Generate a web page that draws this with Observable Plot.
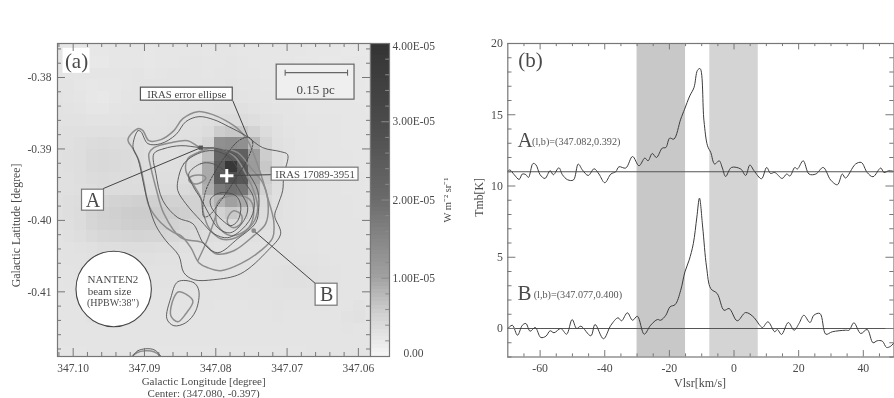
<!DOCTYPE html>
<html><head><meta charset="utf-8">
<script src="https://cdn.jsdelivr.net/npm/d3@7"></script>
<script src="https://cdn.jsdelivr.net/npm/@observablehq/plot@0.6"></script>
<style>
html,body{margin:0;padding:0;background:#fff;width:894px;height:398px;overflow:hidden}
#page{position:relative;width:894px;height:398px}
#page>svg{position:absolute;top:0;overflow:visible;background:transparent;filter:blur(.3px)}
</style></head><body><div id="page"></div>
<script>
// ---- Panel (a): intensity map, units of 1e-6 W m-2 sr-1 (rows top to bottom)
const mapValues = [
[2.2,2.0,2.0,1.9,1.9,2.0,2.0,2.0,1.9,2.0,2.0,2.1,2.2,2.1,2.2,2.2,2.1,2.1,2.1,2.0,2.0,2.0,1.9,1.9,1.9,1.8,1.8,1.8],
[2.2,2.1,2.0,1.8,1.8,2.0,2.1,2.0,1.9,2.1,2.1,2.2,2.3,2.2,2.2,2.3,2.2,2.1,2.0,2.0,2.1,1.9,1.9,1.8,1.8,1.9,1.9,1.8],
[2.3,2.2,2.2,2.2,2.2,2.2,2.2,2.3,2.1,2.2,2.3,2.3,2.3,2.2,2.3,2.4,2.2,2.2,2.1,2.1,2.0,2.0,1.9,1.9,1.9,2.0,1.9,1.8],
[2.4,2.4,2.1,1.9,2.0,2.1,2.2,2.3,2.3,2.3,2.4,2.4,2.4,2.3,2.4,2.5,2.4,2.3,2.2,2.1,2.1,2.0,1.9,1.9,2.0,2.0,1.9,1.8],
[2.5,2.4,2.2,1.9,1.8,2.1,2.3,2.4,2.4,2.4,2.5,2.5,2.5,2.5,2.5,2.6,2.5,2.4,2.3,2.2,2.2,2.1,2.0,2.0,2.1,2.0,1.9,1.9],
[2.6,2.5,2.3,2.1,2.1,2.3,2.4,2.5,2.5,2.6,2.7,2.8,2.8,2.8,2.9,3.0,3.0,2.7,2.5,2.4,2.3,2.2,2.1,2.1,2.1,2.1,2.0,1.9],
[2.7,2.7,2.6,2.5,2.5,2.5,2.6,2.7,2.7,2.7,2.8,2.9,3.0,3.1,3.4,3.6,3.6,3.2,2.8,2.6,2.4,2.3,2.2,2.2,2.2,2.1,2.0,2.0],
[2.8,2.9,3.0,3.0,3.0,2.9,2.9,2.8,2.8,2.8,2.9,3.0,3.1,3.5,5.5,6.0,6.0,4.8,3.5,2.8,2.5,2.4,2.3,2.2,2.2,2.1,2.1,2.0],
[3.0,3.0,3.2,3.6,3.7,3.6,3.5,3.2,3.0,3.0,3.0,3.1,3.4,4.5,13,13.5,13,7.5,4.6,3.0,2.6,2.4,2.3,2.2,2.2,2.1,2.1,2.0],
[3.0,3.1,3.3,3.8,3.9,3.8,3.7,3.4,3.1,3.0,3.0,3.2,3.6,7.0,22,24,23,10.5,5.5,3.2,2.7,2.5,2.3,2.2,2.2,2.2,2.1,2.1],
[3.0,3.1,3.3,3.8,3.9,3.8,3.7,3.4,3.2,3.1,3.1,3.3,3.8,9.0,24,38,25,11,6.0,3.3,2.7,2.5,2.4,2.3,2.2,2.2,2.1,2.1],
[2.9,3.0,3.2,3.6,3.7,3.6,3.5,3.4,3.2,3.2,3.2,3.4,3.9,9.0,25,28,26,10,5.5,3.2,2.7,2.5,2.4,2.3,2.3,2.2,2.2,2.1],
[2.9,3.0,3.1,3.3,3.5,3.5,3.5,3.5,3.5,3.5,3.6,3.8,4.2,8.5,17,19,18,9.0,5.0,3.1,2.7,2.5,2.4,2.3,2.3,2.2,2.2,2.1],
[3.0,3.2,3.4,4.2,4.6,4.8,5.0,5.2,5.2,5.2,5.0,5.0,5.0,6.0,8.0,10,9.0,6.5,3.8,3.0,2.7,2.5,2.4,2.3,2.3,2.3,2.2,2.2],
[3.0,3.3,3.6,4.5,5.0,5.2,5.5,5.6,5.6,5.6,5.5,5.3,5.0,5.0,5.0,6.0,5.5,4.5,3.5,2.9,2.7,2.5,2.4,2.4,2.3,2.3,2.2,2.2],
[2.9,3.1,3.5,4.4,4.8,5.0,5.3,5.4,5.4,5.3,5.0,4.5,4.2,4.0,3.9,4.0,3.9,3.5,3.1,2.8,2.6,2.5,2.4,2.4,2.3,2.3,2.3,2.2],
[2.7,2.9,3.2,3.8,4.2,4.4,4.6,4.7,4.6,4.5,4.2,3.8,3.6,3.3,3.1,3.1,3.0,2.9,2.8,2.7,2.6,2.5,2.5,2.4,2.4,2.3,2.3,2.2],
[2.6,2.7,2.8,3.0,3.2,3.3,3.4,3.4,3.4,3.3,3.2,3.0,2.9,2.8,2.7,2.8,2.7,2.7,2.6,2.6,2.6,2.5,2.5,2.4,2.4,2.4,2.3,2.3],
[2.5,2.6,2.7,2.8,2.8,2.9,2.9,2.9,2.9,2.8,2.8,2.7,2.7,2.7,2.6,2.7,2.6,2.6,2.6,2.6,2.7,2.7,2.6,2.5,2.4,2.4,2.4,2.3],
[2.5,2.5,2.6,2.6,2.7,2.7,2.7,2.7,2.7,2.7,2.7,2.7,2.6,2.6,2.6,2.6,2.6,2.6,2.7,2.8,2.9,2.9,2.8,2.6,2.5,2.4,2.4,2.3],
[2.4,2.5,2.5,2.5,2.6,2.6,2.6,2.6,2.6,2.6,2.6,2.6,2.6,2.6,2.5,2.5,2.5,2.6,2.7,2.8,2.9,2.9,2.8,2.6,2.5,2.4,2.4,2.3],
[2.4,2.4,2.5,2.5,2.5,2.5,2.5,2.5,2.5,2.5,2.5,2.5,2.5,2.5,2.5,2.5,2.5,2.5,2.6,2.7,2.7,2.7,2.6,2.5,2.5,2.4,2.4,2.3],
[2.4,2.4,2.4,2.4,2.5,2.5,2.5,2.5,2.4,2.4,2.4,2.5,2.5,2.5,2.4,2.4,2.4,2.5,2.5,2.6,2.5,2.5,2.5,2.5,2.4,2.4,2.6,2.4],
[2.3,2.4,2.4,2.6,2.5,2.4,2.4,2.4,2.4,2.4,2.4,2.4,2.4,2.4,2.4,2.4,2.4,2.4,2.4,2.5,2.4,2.4,2.4,2.4,2.4,2.7,2.8,2.4],
[2.3,2.3,2.4,2.4,2.4,2.4,2.4,2.4,2.3,2.4,2.4,2.4,2.4,2.4,2.4,2.3,2.3,2.4,2.4,2.4,2.4,2.4,2.4,2.4,2.4,2.5,2.4,2.3],
[2.3,2.3,2.3,2.3,2.3,2.3,2.3,2.3,2.3,2.3,2.3,2.3,2.3,2.3,2.3,2.3,2.3,2.3,2.3,2.3,2.3,2.3,2.3,2.3,2.3,2.3,2.3,2.3],
[2.2,2.2,2.2,2.3,2.3,2.3,2.3,2.3,2.3,2.2,2.2,2.2,2.2,2.2,2.2,2.2,2.2,2.2,2.2,2.2,2.2,2.2,2.3,2.3,2.3,2.3,2.3,2.3]
];
const mapLon0 = 347.10305, mapLonStep = -0.001629, mapLat0 = -0.37548, mapLatStep = -0.001622;

// Contours: offsets from (347.08, -0.39) in grid units of 0.00014 deg
const contoursDark = [
 [[83,2],[78,18],[75,17],[68,5],[55,5],[40,14],[30,27],[17,32],[2,29],[-13,22],[-30,13],[-47,1],[-65,-3],[-72,-6],[-68,-27],[-67,-42],[-62,-57],[-59,-67],[-65,-85],[-52,-102],[-25,-125],[2,-131],[22,-131],[32,-124],[37,-107],[50,-92],[60,-77],[67,-57],[72,-37],[75,-22],[78,-10]],
 [[62,-5],[52,0],[35,3],[15,1],[-2,0],[-20,-7],[-33,-25],[-42,-42],[-43,-59],[-40,-74],[-22,-90],[-2,-104],[12,-95],[23,-75],[38,-69],[53,-52],[60,-25]],
 [[38,-32],[32,-15],[18,-5],[2,-2],[-15,-10],[-28,-32],[-38,-49],[-37,-65],[-27,-80],[-12,-89],[2,-85],[15,-72],[30,-55],[38,-42]],
 [[27,-25],[15,-15],[3,-15],[-12,-25],[-25,-44],[-32,-59],[-28,-72],[-15,-84],[-3,-80],[7,-65],[15,-50],[23,-37]],
 [[5,-50],[-5,-44],[-20,-47],[-25,-57],[-22,-72],[-15,-77],[-7,-72],[0,-65],[5,-57]],
 [[38,-133],[22,-134],[17,-142],[20,-162],[30,-174],[42,-177],[49,-170],[45,-149]],
 [[83,-210],[78,-202],[62,-201],[55,-210],[70,-222]]
];
const contoursGray = [
 [[88,9],[78,20],[73,18],[67,8],[55,9],[42,18],[33,30],[18,37],[3,34],[-10,28],[-22,20],[-32,8],[-45,-25],[-52,-49],[-58,-72],[-57,-89],[-45,-102],[-25,-115],[-5,-122],[8,-119],[17,-114],[25,-99],[35,-87],[42,-84],[55,-74],[67,-57],[72,-34],[77,-12],[83,0]],
 [[67,-5],[62,1],[45,6],[28,8],[15,1],[-5,1],[-22,-4],[-35,-19],[-47,-34],[-52,-50],[-50,-75],[-38,-87],[-18,-102],[0,-105],[13,-94],[35,-89],[52,-65],[60,-39],[65,-19]],
 [[28,-10],[18,-4],[2,1],[-18,-7],[-32,-29],[-38,-42],[-42,-59],[-37,-75],[-20,-89],[-5,-90],[7,-79],[13,-62],[15,-49],[23,-35],[30,-22]],
 [[-12,-69],[-18,-62],[-26,-67],[-25,-75],[-18,-79],[-12,-75]],
 [[27,-30],[23,-27],[12,-27],[10,-30],[18,-35],[25,-34]],
 [[0,-62],[-2,-77],[-15,-87],[-33,-79],[-38,-62],[-33,-50],[-15,-47],[-3,-52]],
 [[37,-143],[23,-152],[30,-165],[38,-173],[45,-167],[42,-149]],
 [[85,-211],[79,-204],[62,-203],[54,-211],[70,-224]]
];
const grayBranch = [[18,-112],[8,-90],[0,-67]];
const errorEllipse = [[-33,11.5],[-37,6],[-32,-10],[-20,-30],[-5,-52],[7,-67],[12,-68],[13,-59],[10,-42],[3,-27],[-10,-7],[-23,8]];

const lonMajor = [347.10,347.09,347.08,347.07,347.06];
const lonMinor = [347.102,347.098,347.096,347.094,347.092,347.088,347.086,347.084,347.082,347.078,347.076,347.074,347.072,347.068,347.066,347.064,347.062,347.058];
const latMajor = [-0.38,-0.39,-0.40,-0.41];
const latMinor = [-0.376,-0.378,-0.382,-0.384,-0.386,-0.388,-0.392,-0.394,-0.396,-0.398,-0.402,-0.404,-0.406,-0.408,-0.412,-0.414,-0.416,-0.418];

// Colour bar
const barMajor = [0,10,20,30,40];
const barMinor = [2,4,6,8,12,14,16,18,22,24,26,28,32,34,36,38];
const barLabels = ["0.00","1.00E-05","2.00E-05","3.00E-05","4.00E-05"];
const grayDomain = [0,5,10,20,30,40];
const grayRange = ["#f4f4f4","#d2d2d2","#a0a0a0","#6a6a6a","#4a4a4a","#333333"];

// ---- Panel (b): spectra
const velA = [-70,-69.3,-68,-66.5,-65.5,-64.4,-63.6,-62.2,-61.3,-60,-58.5,-56.9,-55.9,-54.2,-53.1,-51.5,-49.7,-48.2,-46.9,-45.1,-43.3,-41.8,-40,-38.1,-36.6,-35.6,-33.5,-31.4,-29.4,-27.6,-26.6,-25.3,-24,-22.2,-21.1,-19.9,-18.6,-16.5,-15.3,-13.7,-12.4,-11.3,-10.5,-9.3,-8.2,-7.2,-6,-4.6,-3.6,-2.6,-0.8,2.1,3.6,4.9,6.2,8.5,10.1,11.3,12.6,14.9,16.3,17.3,18.8,19.6,21.4,23.2,25.3,27.6,29.9,32,33.5,34.5,37.6,39.4,41.2,43,45.4,46.4,47.9,49.5];
const tmbA = [11.07,11.12,10.79,10.46,10.84,10.79,10.6,11.58,11.49,10.79,10.53,11.07,10.79,11.28,10.79,10.44,10.42,11.54,11.12,10.74,11.21,10.84,10.23,10.84,11,11.35,11.26,12.07,11.42,11.96,11.77,12.28,12,12.66,12.7,13.36,13.29,14.69,15.39,16.32,16.9,18.12,18.24,14.57,12.82,12.35,11.54,11.77,11.26,10.67,11.3,11.19,10.74,11.47,11.07,10.51,11.3,10.88,10.95,10.53,10.84,10.7,11.3,11.19,11.77,10.84,10.84,11.3,10.42,10.09,10.84,10.56,11.54,11.65,10.95,10.65,11.26,10.95,11.07,11.02];
const velB = [-70,-68.6,-67,-65.5,-64.4,-63.1,-61.5,-59.8,-58.2,-56.9,-55.7,-53.6,-51.8,-50.1,-48.7,-47.4,-44.3,-43,-40.4,-38.1,-35.9,-34.8,-33,-31.4,-29.9,-27.8,-25.8,-23.7,-22.7,-21.1,-19.8,-18.2,-16.5,-15.2,-13.9,-12.6,-11.5,-10.7,-9.7,-8.5,-7.2,-5.2,-3.1,-1.5,1,3.6,6.2,7.7,8.8,10.5,12.6,13.4,14.7,16.8,18.6,20.1,21.6,23.5,24.7,26.6,28.4,30.4,34.5,35.6,37.1,39.2,41.2,43,44.3,45.9,47.2,48.5,49.5];
const tmbB = [0,0.23,-0.47,0.23,0.35,-0.19,0.07,-0.63,-0.54,-0.16,-0.3,0,-0.4,0.63,0,0.16,-0.51,0.28,-0.72,0.23,0.75,0.54,1.1,0.58,0.86,-0.4,0.23,0.63,0.58,0.93,1.52,1.68,2.68,3.97,4.79,5.95,7.82,9.15,7.12,4.32,2.8,2.45,1.28,1.4,0.54,1.12,0.77,0.3,0.07,0.47,-0.23,-0.07,-0.42,0.42,-0.12,0.35,0.93,0.42,0.93,1.05,-0.4,-0.23,-0.12,-0.12,0.4,-0.35,-0.07,-1,-0.86,-0.89,-1.33,-1.24,-1];
const baseA = 11, baseB = 0;
const bandDark = [-30,-15], bandLight = [-7.5,7.5];
const velMajor = [-60,-40,-20,0,20,40];
const velMinor = [-65,-55,-50,-45,-35,-30,-25,-15,-10,-5,5,10,15,25,30,35,45];
const tmbMajor = [0,5,10,15,20];
const tmbMinor = [-2,-1,1,2,3,4,6,7,8,9,11,12,13,14,16,17,18,19];

// ---- helpers
const U = 0.00014, L = d => 347.08 + d*U, B = d => -0.38996 + d*U;
const INK = "#4a4a4a", FRAME = "#777", SERIF = "Liberation Serif";
const flatten = groups => groups.flatMap((pts,i) => pts.map(p => ({dx:p[0],dy:p[1],id:i})));
const P = (o) => Plot.plot({style:{fontFamily:SERIF,background:"transparent",overflow:"visible",color:INK},...o});

const cells = mapValues.flatMap((row,r) => row.map((v,c) => ({
  l1:mapLon0+c*mapLonStep, l2:mapLon0+(c+1)*mapLonStep,
  b1:r===0?-0.37:mapLat0+r*mapLatStep, b2:mapLat0+(r+1)*mapLatStep, v})));

const lonD=[347.1022,347.0583], latD=[-0.41905,-0.37524];
const tickX=(vals,len)=>[
  Plot.ruleX(vals,{y1:latD[0],y2:latD[0]+len,stroke:FRAME,strokeWidth:1}),
  Plot.ruleX(vals,{y1:latD[1],y2:latD[1]-len,stroke:FRAME,strokeWidth:1})];
const tickY=(vals,len)=>[
  Plot.ruleY(vals,{x1:lonD[0],x2:lonD[0]-len,stroke:FRAME,strokeWidth:1}),
  Plot.ruleY(vals,{x1:lonD[1],x2:lonD[1]+len,stroke:FRAME,strokeWidth:1})];

const boxes=[
 {a:153,b:126,c:100.3,d:75.3,f:"#fff",s:"none"},
 {a:-61,b:-139,c:84,d:49,f:"#efefef",s:"#666"},
 {a:75,b:-17,c:61,d:48,f:"#fff",s:"#555"},
 {a:-56,b:-143,c:-19,d:-32,f:"#fff",s:"#777"},
 {a:134,b:112,c:-41,d:-62,f:"#fff",s:"#777"},
 {a:-100,b:-122,c:-135,d:-157,f:"#fff",s:"#777"}];
const leaders=[
 {a:113,b:-40,c:15,d:1},{a:-100,b:-135,c:-38,d:-82},{a:-56,b:-26,c:-11,d:-27},{a:-17,b:48,c:-32,d:12}];
const labels=[
 {t:"(a)",x:139.5,y:87,s:21},
 {t:"0.15 pc",x:-100,y:58.5,s:13},
 {t:"IRAS error ellipse",x:29,y:54.5,s:10.8},
 {t:"IRAS 17089-3951",x:-99.5,y:-25.5,s:10.8},
 {t:"A",x:123,y:-51.5,s:20},
 {t:"B",x:-111,y:-146,s:20},
 {t:"NANTEN2",x:103,y:-131,s:11},
 {t:"beam size",x:106.5,y:-142.5,s:11},
 {t:"(HPBW:38\")",x:103,y:-154,s:10}];

const panelA = P({
  width:370,height:398,marginLeft:57,marginRight:0,marginTop:43,marginBottom:42,
  x:{domain:lonD,axis:null},y:{domain:latD,axis:null},
  color:{type:"linear",domain:grayDomain,range:grayRange},
  marks:[
    Plot.rect(cells,{x1:"l1",x2:"l2",y1:"b1",y2:"b2",fill:"v",clip:true,inset:0,shapeRendering:"crispEdges"}),
    Plot.dot([{x:L(102.3),y:B(-140.3)}],{x:"x",y:"y",r:37.7,fill:"#fff",stroke:"#444",strokeWidth:1.1}),
    Plot.line(flatten(contoursGray),{x:d=>L(d.dx),y:d=>B(d.dy),z:"id",curve:"catmull-rom-closed",stroke:"#8d8d8d",strokeWidth:1.5,clip:true}),
    Plot.line(flatten([grayBranch]),{x:d=>L(d.dx),y:d=>B(d.dy),curve:"catmull-rom",stroke:"#8d8d8d",strokeWidth:1.4,clip:true}),
    Plot.line(flatten(contoursDark),{x:d=>L(d.dx),y:d=>B(d.dy),z:"id",curve:"catmull-rom-closed",stroke:"#505050",strokeWidth:0.9,clip:true}),
    Plot.line(flatten([errorEllipse]),{x:d=>L(d.dx),y:d=>B(d.dy),curve:"catmull-rom-closed",stroke:"#444",strokeWidth:1,strokeDasharray:"1.5,1.5",clip:true}),
    Plot.link(leaders,{x1:d=>L(d.a),y1:d=>B(d.b),x2:d=>L(d.c),y2:d=>B(d.d),stroke:"#444",strokeWidth:1}),
    Plot.rect(boxes,{x1:d=>L(d.a),x2:d=>L(d.b),y1:d=>B(d.c),y2:d=>B(d.d),fill:"f",stroke:"s",strokeWidth:1.2}),
    Plot.dot([{x:L(15),y:B(1)}],{x:"x",y:"y",symbol:"square",r:2.4,fill:"#555"}),
    Plot.dot([{x:L(-38),y:B(-82)}],{x:"x",y:"y",r:2.4,fill:"#8a8a8a"}),
    Plot.dot([{x:L(-11),y:B(-27)}],{x:"x",y:"y",symbol:"plus",r:4.4,stroke:"#fff",strokeWidth:3}),
    Plot.link([{a:-69.5,b:-132}],{x1:d=>L(d.a),x2:d=>L(d.b),y1:()=>B(76),y2:()=>B(76),stroke:"#666",strokeWidth:1.1}),
    Plot.link([-69.5,-132],{x1:d=>L(d),x2:d=>L(d),y1:()=>B(73),y2:()=>B(79),stroke:"#666",strokeWidth:1.1}),
    Plot.text(labels,{x:d=>L(d.x),y:d=>B(d.y),text:"t",fontSize:"s",fill:INK,lineAnchor:"middle"}),
    ...tickX(lonMajor,0.00112),...tickX(lonMinor,0.00056),
    ...tickY(latMajor,0.00112),...tickY(latMinor,0.00056),
    Plot.frame({stroke:FRAME,strokeWidth:1.2}),
    Plot.axisX(lonMajor,{anchor:"bottom",tickSize:0,tickPadding:7,fontSize:11.5,fill:INK,tickFormat:d=>d.toFixed(2),label:null}),
    Plot.axisY(latMajor,{anchor:"left",tickSize:0,tickPadding:6,fontSize:11.5,fill:INK,tickFormat:d=>d.toFixed(2),label:null}),
    Plot.text(["Galactic Longitude [degree]"],{x:347.0817,frameAnchor:"bottom",lineAnchor:"middle",dy:24.5,fontSize:11,fill:INK}),
    Plot.text(["Center: (347.080, -0.397)"],{x:347.0817,frameAnchor:"bottom",lineAnchor:"middle",dy:36.5,fontSize:11,fill:INK}),
    Plot.text(["Galactic Latitude [degree]"],{y:-0.4007,frameAnchor:"left",textAnchor:"middle",dx:-41,rotate:-90,fontSize:11.8,fill:INK})
  ]});
panelA.style.left="0px";

const barLevels = d3.range(0,40,0.5);
const colorBar = P({
  width:100,height:398,marginLeft:0,marginRight:81,marginTop:43,marginBottom:42,
  x:{domain:[0,1],axis:null},y:{domain:[0,40],axis:null},
  color:{type:"linear",domain:grayDomain,range:grayRange},
  marks:[
    Plot.rect(barLevels,{x1:0,x2:1,y1:d=>d,y2:d=>d+0.5,fill:d=>d,shapeRendering:"crispEdges"}),
    Plot.ruleY(barMajor,{x1:1,x2:0.6,stroke:"#8a8a8a"}),
    Plot.ruleY(barMinor,{x1:1,x2:0.8,stroke:"#8a8a8a"}),
    Plot.frame({stroke:FRAME,strokeWidth:1.2}),
    Plot.text(barLabels.slice(1,4),{x:1,y:(d,i)=>barMajor[i+1],text:d=>d,dx:3,textAnchor:"start",fontSize:11.5,fill:INK}),
    Plot.text([barLabels[4]],{x:1,y:40,dx:3,dy:3,textAnchor:"start",fontSize:11.5,fill:INK}),
    Plot.text([barLabels[0]],{x:1,y:0,dx:24,dy:-3,fontSize:11.5,fill:INK}),
    Plot.text(["W m\u207B\u00B2 sr\u207B\u00B9"],{x:1,y:20,dx:58,rotate:-90,fontSize:10.5,fill:INK})
  ]});
colorBar.style.left="370px";

const vD=[-70,49.5], tD=[-2,20];
const panelB = P({
  width:424,height:398,marginLeft:37.3,marginRight:0.5,marginTop:43,marginBottom:41.5,
  x:{domain:vD,axis:null},y:{domain:tD,axis:null},
  marks:[
    Plot.rect([bandDark],{x1:d=>d[0],x2:d=>d[1],y1:tD[0],y2:tD[1],fill:"#c8c8c8"}),
    Plot.rect([bandLight],{x1:d=>d[0],x2:d=>d[1],y1:tD[0],y2:tD[1],fill:"#d4d4d4"}),
    Plot.ruleY([baseA,baseB],{stroke:"#555",strokeWidth:1}),
    Plot.line(velA,{x:d=>d,y:(d,i)=>tmbA[i],curve:"catmull-rom",stroke:"#3c3c3c",strokeWidth:1}),
    Plot.line(velB,{x:d=>d,y:(d,i)=>tmbB[i],curve:"catmull-rom",stroke:"#3c3c3c",strokeWidth:1}),
    Plot.ruleX(velMajor,{y1:tD[0],y2:tD[0]+0.45,stroke:FRAME}),
    Plot.ruleX(velMajor,{y1:tD[1],y2:tD[1]-0.45,stroke:FRAME}),
    Plot.ruleX(velMinor,{y1:tD[0],y2:tD[0]+0.22,stroke:FRAME}),
    Plot.ruleX(velMinor,{y1:tD[1],y2:tD[1]-0.22,stroke:FRAME}),
    Plot.ruleY(tmbMajor,{x1:vD[0],x2:vD[0]+2.5,stroke:FRAME}),
    Plot.ruleY(tmbMajor,{x1:vD[1],x2:vD[1]-2.5,stroke:FRAME}),
    Plot.ruleY(tmbMinor,{x1:vD[0],x2:vD[0]+1.3,stroke:FRAME}),
    Plot.ruleY(tmbMinor,{x1:vD[1],x2:vD[1]-1.3,stroke:FRAME}),
    Plot.frame({stroke:FRAME,strokeWidth:1.2}),
    Plot.axisX(velMajor,{anchor:"bottom",tickSize:0,tickPadding:7,fontSize:11.8,fill:INK,label:null,tickFormat:d=>String(d)}),
    Plot.axisY(tmbMajor,{anchor:"left",tickSize:0,tickPadding:5,fontSize:11.8,fill:INK,label:null,tickFormat:d=>String(d)}),
    Plot.text(["Vlsr[km/s]"],{x:-10.5,frameAnchor:"bottom",lineAnchor:"middle",dy:26,fontSize:12,fill:INK}),
    Plot.text(["Tmb[K]"],{y:9.2,frameAnchor:"left",textAnchor:"middle",dx:-29,rotate:-90,fontSize:11.8,fill:INK}),
    Plot.text(["(b)"],{x:-66.8,y:18.8,textAnchor:"start",fontSize:21,fill:INK}),
    Plot.text(["A"],{x:-67,y:13.2,textAnchor:"start",fontSize:21,fill:INK}),
    Plot.text(["(l,b)=(347.082,0.392)"],{x:-62.5,y:13.1,textAnchor:"start",fontSize:10.2,fill:"#555"}),
    Plot.text(["B"],{x:-67,y:2.5,textAnchor:"start",fontSize:21,fill:INK}),
    Plot.text(["(l,b)=(347.077,0.400)"],{x:-62,y:2.4,textAnchor:"start",fontSize:10.2,fill:"#555"})
  ]});
panelB.style.left="470px";

document.getElementById("page").append(panelA,colorBar,panelB);
</script></body></html>
